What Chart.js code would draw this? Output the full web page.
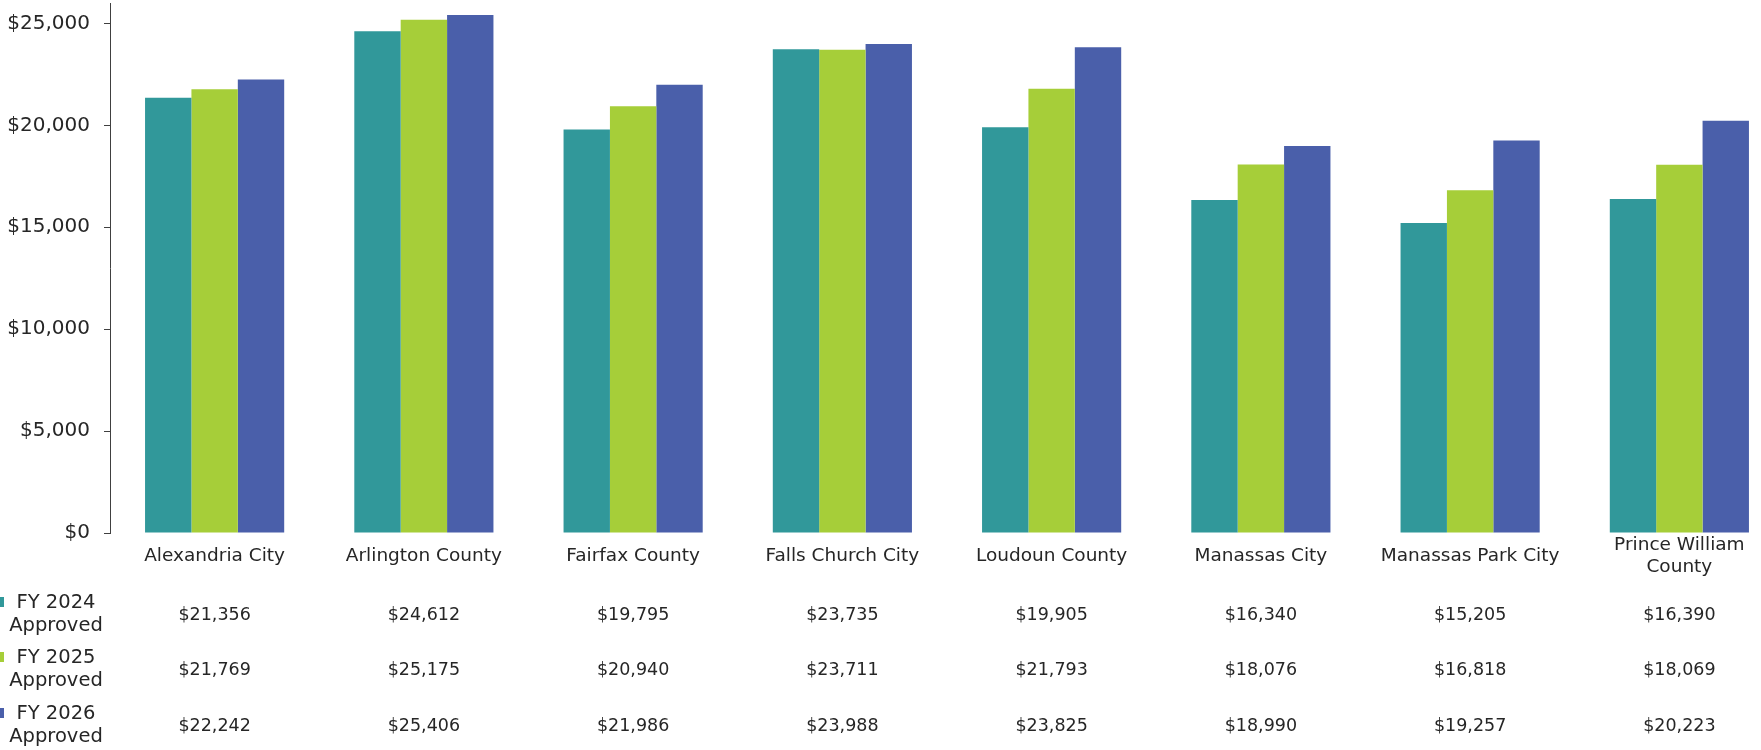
<!DOCTYPE html>
<html>
<head>
<meta charset="utf-8">
<script src="https://cdn.jsdelivr.net/npm/chart.js@4.4.1/dist/chart.umd.min.js"></script>
<style>
  html, body { margin: 0; padding: 0; background: #fff; overflow: hidden; }
  #wrap { width: 1800px; height: 750px; }
</style>
</head>
<body>
<div id="wrap"><canvas id="tuitionChart" width="1800" height="750"></canvas></div>
<script>
const localities = [
    "Alexandria City", "Arlington County", "Fairfax County", "Falls Church City",
    "Loudoun County", "Manassas City", "Manassas Park City", ["Prince William", "County"]
];
const fy2024 = [21356, 24612, 19795, 23735, 19905, 16340, 15205, 16390];
const fy2025 = [21769, 25175, 20940, 23711, 21793, 18076, 16818, 18069];
const fy2026 = [22242, 25406, 21986, 23988, 23825, 18990, 19257, 20223];
const seriesNames = ["FY 2024 Approved", "FY 2025 Approved", "FY 2026 Approved"];
const yTicks = [0, 5000, 10000, 15000, 20000, 25000];

const FONT = "'DejaVu Sans', sans-serif";
const INK = "#262626";
const colours = ["#31989a", "#a6ce39", "#4a5faa"];

const money = v => "$" + v.toLocaleString("en-US");

// data table under the axis, one row per series, legend key on the left
const dataTable = {
    id: 'dataTable',
    afterDraw(chart) {
        const { ctx, scales: { x } } = chart;
        const rows = [fy2024, fy2025, fy2026];
        const rowY = [615, 670, 726];
        ctx.save();
        ctx.fillStyle = INK;
        ctx.textAlign = 'center';
        ctx.textBaseline = 'middle';
        rows.forEach((vals, r) => {
            ctx.font = "17.5px " + FONT;
            vals.forEach((v, i) => {
                ctx.fillText(money(v), x.getPixelForValue(i), rowY[r]);
            });
            // legend key
            ctx.fillStyle = colours[r];
            ctx.fillRect(0, rowY[r] - 18, 4, 10);
            ctx.fillStyle = INK;
            ctx.font = "19.5px " + FONT;
            const parts = seriesNames[r].split(" Approved");
            ctx.fillText(parts[0], 56, rowY[r] - 12);
            ctx.fillText("Approved", 56, rowY[r] + 11);
        });
        ctx.restore();
    }
};

new Chart(document.getElementById('tuitionChart'), {
    type: 'bar',
    data: {
        labels: localities,
        datasets: [
            { label: seriesNames[0], data: fy2024, backgroundColor: colours[0] },
            { label: seriesNames[1], data: fy2025, backgroundColor: colours[1] },
            { label: seriesNames[2], data: fy2026, backgroundColor: colours[2] }
        ]
    },
    options: {
        responsive: false,
        animation: false,
        layout: { padding: { top: 3, right: 16, left: 0, bottom: 0 } },
        plugins: {
            legend: { display: false },
            tooltip: { enabled: false }
        },
        datasets: {
            bar: { categoryPercentage: 0.665, barPercentage: 1.0 }
        },
        scales: {
            x: {
                grid: { display: false },
                border: { display: false },
                ticks: {
                    color: INK,
                    font: { family: FONT, size: 18.5 },
                    padding: 4,
                    crossAlign: 'center',
                    maxRotation: 0,
                    autoSkip: false
                },
                afterFit(scale) { scale.height = 217; scale.paddingLeft = 0; scale.paddingRight = 0; }
            },
            y: {
                min: 0,
                max: 26000,
                grid: { drawOnChartArea: false, drawTicks: true, tickLength: 6, color: '#404040' },
                border: { display: true, color: '#404040' },
                afterBuildTicks(scale) {
                    scale.ticks = yTicks.map(v => ({ value: v }));
                },
                ticks: {
                    color: INK,
                    font: { family: FONT, size: 20 },
                    padding: 14,
                    callback: v => money(v)
                },
                afterFit(scale) { scale.width = 110; scale.paddingTop = 0; scale.paddingBottom = 0; }
            }
        }
    },
    plugins: [dataTable]
});
</script>
</body>
</html>
